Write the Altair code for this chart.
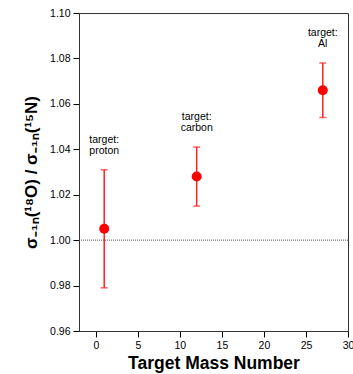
import altair as alt
import pandas as pd

target_mass = [1, 12, 27]
ratio = [1.005, 1.028, 1.066]
err_low = [0.979, 1.015, 1.054]
err_high = [1.031, 1.041, 1.078]
labels = ["target:\nproton", "target:\ncarbon", "target:\nAl"]
ref_line = [1.0]

df = pd.DataFrame({"mass": target_mass, "ratio": ratio, "lo": err_low,
                   "hi": err_high, "label": labels})
ref = pd.DataFrame({"y": ref_line})

FONT = "Liberation Sans"
xs = alt.Scale(domain=[-2, 30], nice=False, zero=False)
ys = alt.Scale(domain=[0.96, 1.10], nice=False, zero=False)

x_axis = alt.Axis(title="Target Mass Number", values=[0, 5, 10, 15, 20, 25, 30],
                  grid=False, titleFontSize=17.5, titleFont=FONT, titleFontWeight="bold",
                  labelFont=FONT, labelFontSize=10.5, labelColor="black", titleColor="black",
                  tickColor="black", domainColor="#333", tickSize=6, labelPadding=3,
                  titlePadding=4, labelFlush=False)
y_axis = alt.Axis(title="σ₋₁ₙ(¹⁸O) / σ₋₁ₙ(¹⁵N)",
                  values=[0.96, 0.98, 1.00, 1.02, 1.04, 1.06, 1.08, 1.10], format=".2f",
                  grid=False, titleFontSize=17, titleFont=FONT, titleFontWeight="bold",
                  labelFont=FONT, labelFontSize=10.5, labelColor="black", titleColor="black",
                  tickColor="black", domainColor="#333", tickSize=6, labelPadding=3,
                  titlePadding=9, labelFlush=False)

base = alt.Chart(df)

refline = alt.Chart(ref).mark_rule(color="#555", strokeDash=[1, 1], strokeWidth=1).encode(
    y=alt.Y("y:Q", scale=ys, axis=y_axis))

bars = base.mark_rule(color="#ff2020", strokeWidth=1.5).encode(
    x=alt.X("mass:Q", scale=xs, axis=x_axis),
    y=alt.Y("lo:Q", scale=ys, axis=y_axis),
    y2="hi:Q")

cap_lo = base.mark_tick(color="#ff2020", orient="horizontal", size=7, thickness=1.5).encode(
    x=alt.X("mass:Q", scale=xs), y=alt.Y("lo:Q", scale=ys))
cap_hi = base.mark_tick(color="#ff2020", orient="horizontal", size=7, thickness=1.5).encode(
    x=alt.X("mass:Q", scale=xs), y=alt.Y("hi:Q", scale=ys))

pts = base.mark_point(filled=True, color="#ff0000", size=100, opacity=1, shape="circle").encode(
    x=alt.X("mass:Q", scale=xs), y=alt.Y("ratio:Q", scale=ys))

txt = base.mark_text(font=FONT, fontSize=10.5, lineBreak="\n", align="center",
                     baseline="bottom", dy=-25, lineHeight=11, color="black").encode(
    x=alt.X("mass:Q", scale=xs), y=alt.Y("hi:Q", scale=ys), text="label:N")

chart = alt.layer(refline, bars, cap_lo, cap_hi, pts, txt).properties(
    width=269, height=318,
    autosize=alt.AutoSizeParams(type="none"),
    padding={"left": 79, "top": 13, "right": 5, "bottom": 43},
    background="white",
).configure_view(stroke="#333", strokeWidth=1)

chart.save("out.html", embed_options={"renderer": "svg", "actions": False})
